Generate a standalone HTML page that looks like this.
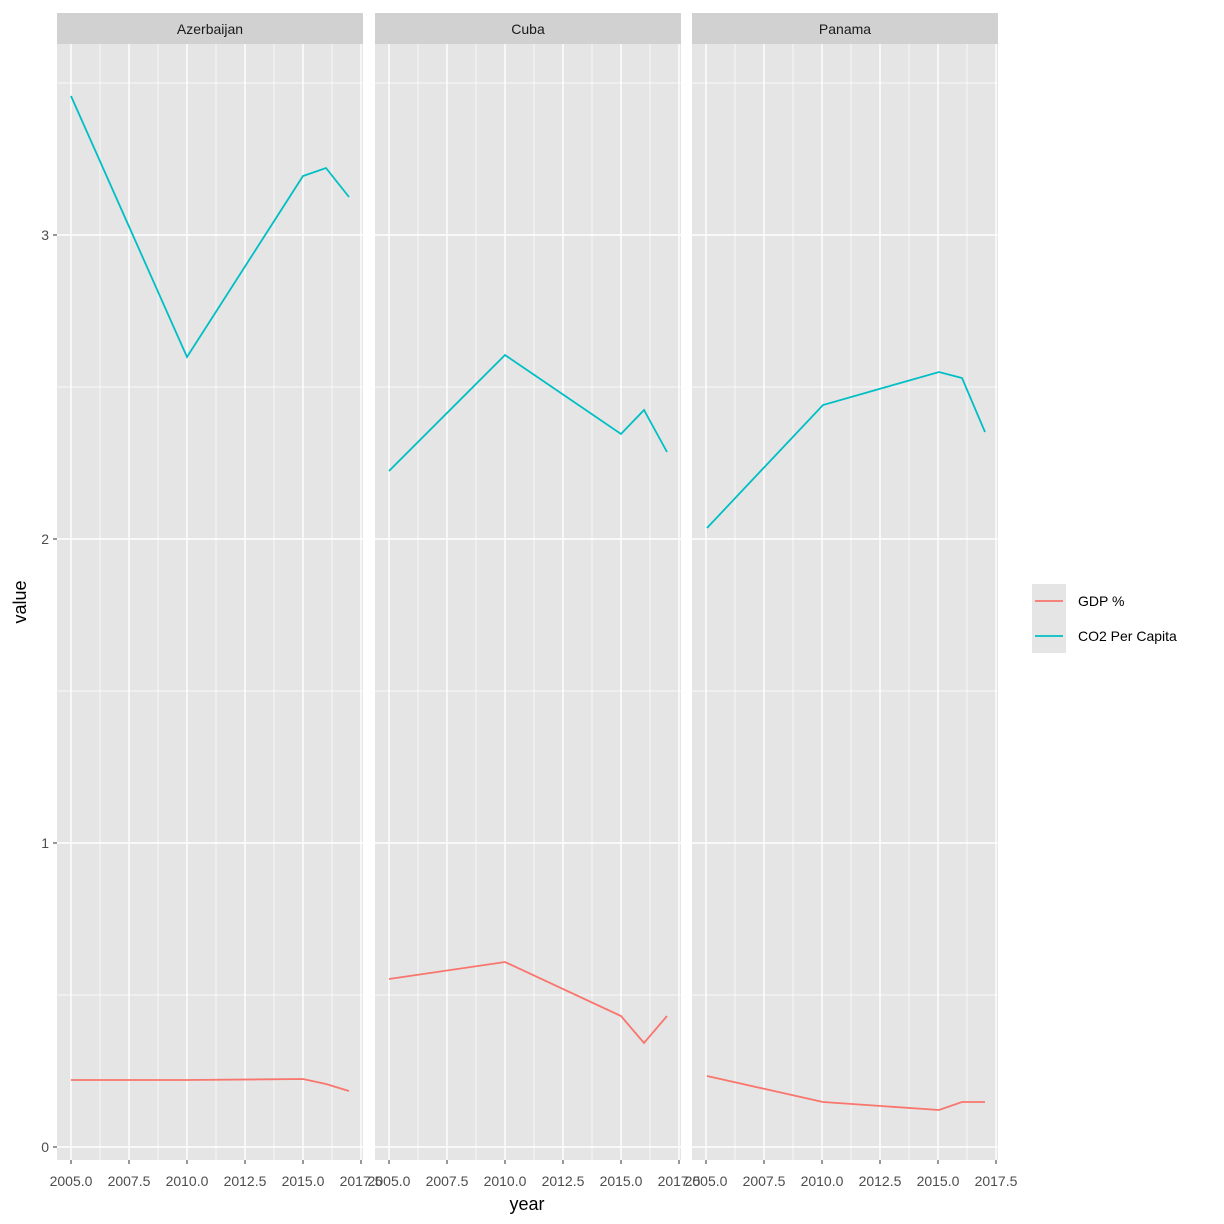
<!DOCTYPE html>
<html><head><meta charset="utf-8"><style>body{margin:0;background:#fff}svg{display:block;font-family:"Liberation Sans",sans-serif}</style></head>
<body>
<svg width="1224" height="1224" viewBox="0 0 1224 1224" xmlns="http://www.w3.org/2000/svg">
<defs>
<g id="panel">
  <rect x="0" y="44" width="306" height="1116" fill="#e5e5e5"/>
  <g stroke="#fff" stroke-width="0.7">
    <line x1="0" x2="306" y1="995" y2="995"/><line x1="0" x2="306" y1="691" y2="691"/>
    <line x1="0" x2="306" y1="387" y2="387"/><line x1="0" x2="306" y1="83" y2="83"/>
    <line y1="44" y2="1160" x1="43" x2="43"/><line y1="44" y2="1160" x1="101" x2="101"/>
    <line y1="44" y2="1160" x1="159" x2="159"/><line y1="44" y2="1160" x1="217" x2="217"/>
    <line y1="44" y2="1160" x1="275" x2="275"/>
  </g>
  <g stroke="#fff" stroke-width="1.4">
    <line x1="0" x2="306" y1="1147" y2="1147"/><line x1="0" x2="306" y1="843" y2="843"/>
    <line x1="0" x2="306" y1="539" y2="539"/><line x1="0" x2="306" y1="235" y2="235"/>
    <line y1="44" y2="1160" x1="14" x2="14"/><line y1="44" y2="1160" x1="72" x2="72"/>
    <line y1="44" y2="1160" x1="130" x2="130"/><line y1="44" y2="1160" x1="188" x2="188"/>
    <line y1="44" y2="1160" x1="246" x2="246"/><line y1="44" y2="1160" x1="304" x2="304"/>
  </g>
  <rect x="0" y="13" width="306" height="31" fill="#d1d1d1"/>
  <g stroke="#333" stroke-width="1">
    <line x1="14" x2="14" y1="1160" y2="1164"/><line x1="72" x2="72" y1="1160" y2="1164"/>
    <line x1="130" x2="130" y1="1160" y2="1164"/><line x1="188" x2="188" y1="1160" y2="1164"/>
    <line x1="246" x2="246" y1="1160" y2="1164"/><line x1="304" x2="304" y1="1160" y2="1164"/>
  </g>
  <g font-size="14" fill="#4d4d4d" text-anchor="middle">
    <text x="14" y="1186">2005.0</text><text x="72" y="1186">2007.5</text>
    <text x="130" y="1186">2010.0</text><text x="188" y="1186">2012.5</text>
    <text x="246" y="1186">2015.0</text><text x="304" y="1186">2017.5</text>
  </g>
</g>
</defs>
<use href="#panel" x="57"/>
<use href="#panel" x="375"/>
<use href="#panel" x="692"/>
<g font-size="14" fill="#1a1a1a" text-anchor="middle">
  <text x="210" y="34">Azerbaijan</text><text x="528" y="34">Cuba</text><text x="845" y="34">Panama</text>
</g>
<g stroke="#333"><line x1="53" x2="57" y1="1147" y2="1147"/><line x1="53" x2="57" y1="843" y2="843"/><line x1="53" x2="57" y1="539" y2="539"/><line x1="53" x2="57" y1="235" y2="235"/></g>
<g font-size="14" fill="#4d4d4d" text-anchor="end">
  <text x="49" y="1152">0</text><text x="49" y="848">1</text><text x="49" y="544">2</text><text x="49" y="240">3</text>
</g>
<text x="527" y="1210" font-size="18" text-anchor="middle" fill="#000">year</text>
<text transform="translate(26,602) rotate(-90)" font-size="18" text-anchor="middle" fill="#000">value</text>
<g fill="none" stroke-width="1.8">
  <polyline stroke="#00bfc4" points="71,96 187,357 303,176 326,168 349,197"/>
  <polyline stroke="#f8766d" points="71,1080 187,1080 303,1079 326,1084 349,1091"/>
  <polyline stroke="#00bfc4" points="389,471 505,355 621,434 644,410 667,452"/>
  <polyline stroke="#f8766d" points="389,979 505,962 621,1016 644,1043 667,1016"/>
  <polyline stroke="#00bfc4" points="707,528 823,405 939,372 962,378 985,432"/>
  <polyline stroke="#f8766d" points="707,1076 823,1102 939,1110 962,1102 985,1102"/>
</g>
<rect x="1032" y="584" width="34" height="69" fill="#e5e5e5"/>
<line x1="1035" x2="1063" y1="601" y2="601" stroke="#f8766d" stroke-width="1.8"/>
<line x1="1035" x2="1063" y1="636" y2="636" stroke="#00bfc4" stroke-width="1.8"/>
<g font-size="14" fill="#000"><text x="1078" y="606">GDP %</text><text x="1078" y="641">CO2 Per Capita</text></g>
</svg>
</body></html>
